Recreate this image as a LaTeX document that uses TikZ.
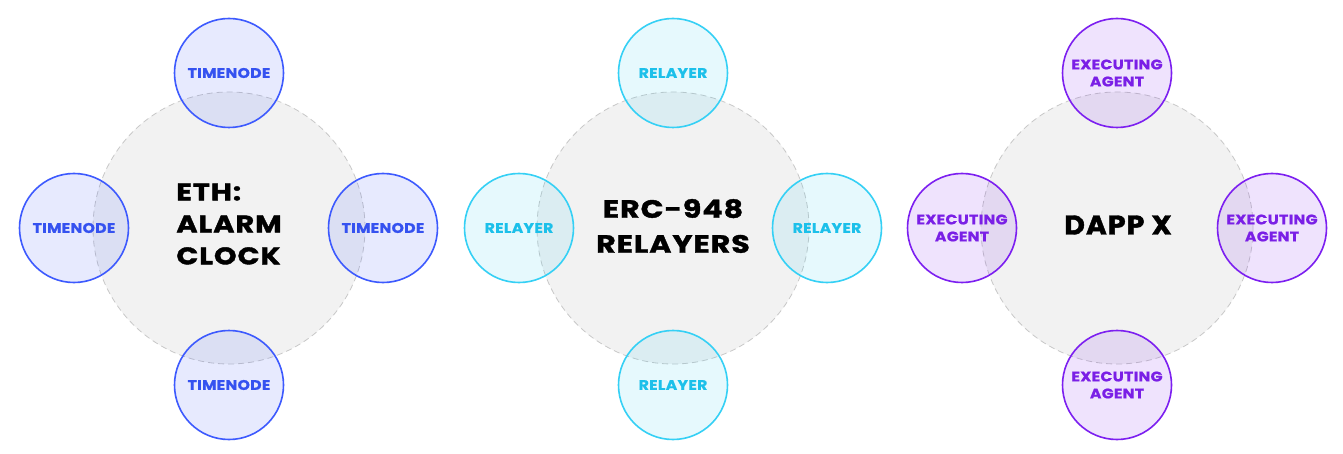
\documentclass[tikz,border=0pt]{standalone}
\usepackage{fontspec}
\setmainfont{Poppins}
\newfontfamily\hubfont{Poppins}[FakeStretch=1.2,LetterSpace=4,BoldFeatures={FakeBold=1.6}]
\newfontfamily\dappfont{Poppins}[FakeStretch=1.05,LetterSpace=4,BoldFeatures={FakeBold=1.6}]
\newfontfamily\satfont{Poppins}[FakeStretch=1.12,LetterSpace=2,BoldFeatures={FakeBold=0.8}]
\definecolor{bigfill}{HTML}{F2F2F2}
\definecolor{bigline}{HTML}{C8C8C8}
\definecolor{cblue}{HTML}{3D5AFE}
\definecolor{tblue}{HTML}{3552F0}
\definecolor{ccyan}{HTML}{35D0F5}
\definecolor{tcyan}{HTML}{1CC0EA}
\definecolor{cpurp}{HTML}{7C1FF0}
\definecolor{tpurp}{HTML}{7A1FE6}
\begin{document}
\begin{tikzpicture}[x=1pt,y=-1pt,
  hub/.style={circle,minimum size=272pt,inner sep=0pt,fill=bigfill,draw=bigline,
    dash pattern=on 6pt off 4pt,line width=0.8pt,text=black},
  hubtext/.style={inner sep=0pt,text=black},
  sat/.style={circle,minimum size=109pt,inner sep=0pt,line width=1.6pt,
    font=\satfont\fontsize{14}{17}\selectfont\bfseries,align=center},
  satblue/.style={sat,draw=cblue,fill=cblue,fill opacity=0.12,text opacity=1,text=tblue},
  satcyan/.style={sat,draw=ccyan,fill=ccyan,fill opacity=0.12,text opacity=1,text=tcyan},
  satpurp/.style={sat,draw=cpurp,fill=cpurp,fill opacity=0.12,text opacity=1,text=tpurp}]
\useasboundingbox[fill=white] (0,0) rectangle (1343,454);
% group 1
\node[hub] (h1) at (229,228) {};
\node[hubtext,align=left,font=\hubfont\fontsize{24}{32}\selectfont\bfseries] (n1) at (229,224) {ETH:\\ALARM\\CLOCK};
\node[satblue] (t1) at (229,73) {TIMENODE};
\node[satblue] (l1) at (74,228) {TIMENODE};
\node[satblue] (r1) at (383,228) {TIMENODE};
\node[satblue] (b1) at (229,385) {TIMENODE};
% group 2
\node[hub] (h2) at (673,228) {};
\node[hubtext,align=center,font=\hubfont\fontsize{25}{35}\selectfont\bfseries] (n2) at (673,226) {ERC-948\\RELAYERS};
\node[satcyan] (t2) at (673,73) {RELAYER};
\node[satcyan] (l2) at (519,228) {RELAYER};
\node[satcyan] (r2) at (827,228) {RELAYER};
\node[satcyan] (b2) at (673,385) {RELAYER};
% group 3
\node[hub] (h3) at (1117,228) {};
\node[hubtext,font=\dappfont\fontsize{27}{32}\selectfont\bfseries] (n3) at (1118,225) {DAPP X};
\node[satpurp] (t3) at (1117,73) {EXECUTING\\AGENT};
\node[satpurp] (l3) at (962,228) {EXECUTING\\AGENT};
\node[satpurp] (r3) at (1272,228) {EXECUTING\\AGENT};
\node[satpurp] (b3) at (1117,385) {EXECUTING\\AGENT};
\end{tikzpicture}
\end{document}
